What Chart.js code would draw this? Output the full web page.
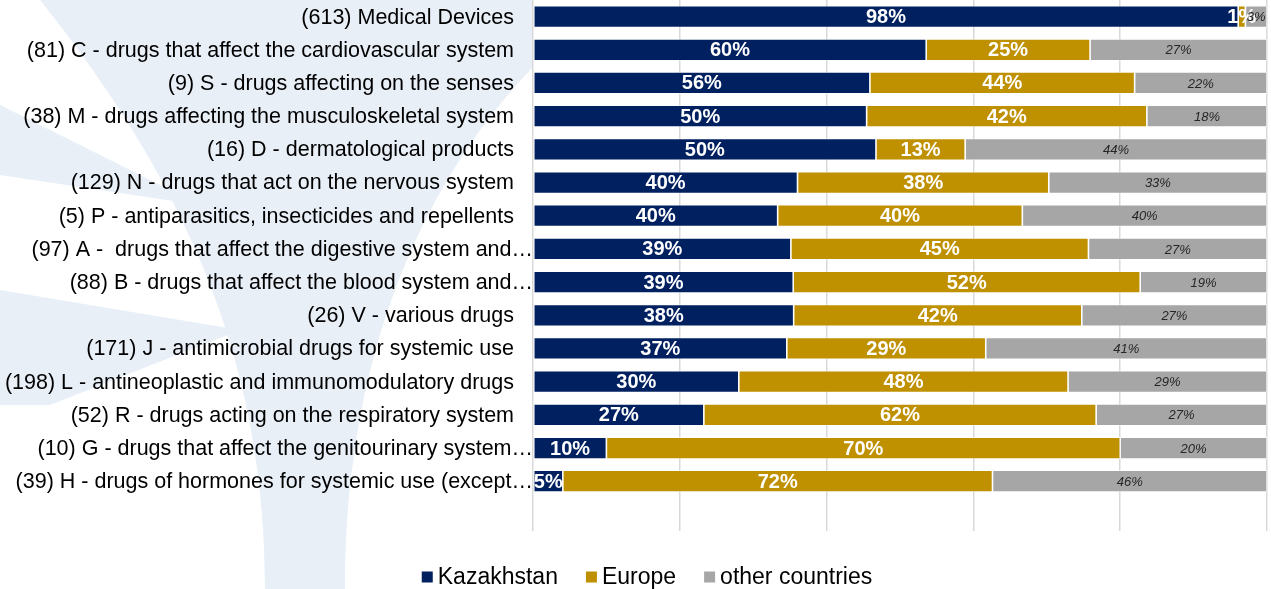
<!DOCTYPE html>
<html>
<head>
<meta charset="utf-8">
<script src="https://cdn.jsdelivr.net/npm/chart.js@4.4.0/dist/chart.umd.min.js"></script>
<style>
  html, body { margin: 0; padding: 0; background: #fff; }
  #wrap { width: 1271px; height: 589px; position: relative; }
</style>
</head>
<body>
<div id="wrap"><canvas id="origin_chart"></canvas></div>
<script>
// categories (top to bottom)
const categories = [
  '(613) Medical Devices',
  '(81) C - drugs that affect the cardiovascular system',
  '(9) S - drugs affecting on the senses',
  '(38) M - drugs affecting the musculoskeletal system',
  '(16) D - dermatological products',
  '(129) N - drugs that act on the nervous system',
  '(5) P - antiparasitics, insecticides and repellents',
  '(97) A -  drugs that affect the digestive system and\u2026',
  '(88) B - drugs that affect the blood system and\u2026',
  '(26) V - various drugs',
  '(171) J - antimicrobial drugs for systemic use',
  '(198) L - antineoplastic and immunomodulatory drugs',
  '(52) R - drugs acting on the respiratory system',
  '(10) G - drugs that affect the genitourinary system\u2026',
  '(39) H - drugs of hormones for systemic use (except\u2026'
];

// shares in % as printed on the bars
const kazakhstan = [98, 60, 56, 50, 50, 40, 40, 39, 39, 38, 37, 30, 27, 10, 5];
const europe     = [1, 25, 44, 42, 13, 38, 40, 45, 52, 42, 29, 48, 62, 70, 72];
const others     = [3, 27, 22, 18, 44, 33, 40, 27, 19, 27, 41, 29, 27, 20, 46];

const seriesNames = ['Kazakhstan', 'Europe', 'other countries'];
const seriesColors = ['#002060', '#BF9000', '#A6A6A6'];
const xTicks = [0, 20, 40, 60, 80, 100];

const FONT = '"Liberation Sans", Arial, sans-serif';

// bars are drawn 100% stacked: each row scaled to its own total
function share(arr, i) {
  var total = kazakhstan[i] + europe[i] + others[i];
  return arr[i] / total * 100;
}
const rawSeries = [kazakhstan, europe, others];

const datasets = rawSeries.map(function (arr, s) {
  return {
    label: seriesNames[s],
    data: arr.map(function (v, i) { return share(arr, i); }),
    raw: arr,
    backgroundColor: seriesColors[s],
    borderColor: 'rgba(255,255,255,0.7)',
    borderWidth: 0.8,
    borderSkipped: false,
    barPercentage: 0.66,
    categoryPercentage: 1.0
  };
});

// faint logo swoosh behind the category labels
const watermark = {
  id: 'watermark',
  beforeDraw: function (chart) {
    var ctx = chart.ctx;
    ctx.save();
    ctx.beginPath();
    ctx.rect(0, 0, chart.chartArea.left, chart.height);
    ctx.clip();
    ctx.fillStyle = '#E8EFF7';
    ctx.beginPath();
    ctx.moveTo(40, 0);
    ctx.lineTo(540, 0);
    ctx.lineTo(540, 60);
    ctx.bezierCurveTo(440, 160, 345, 330, 345, 589);
    ctx.lineTo(265, 589);
    ctx.bezierCurveTo(265, 380, 200, 200, 40, 0);
    ctx.fill();
    ctx.beginPath();
    ctx.moveTo(0, 105);
    ctx.lineTo(200, 205);
    ctx.lineTo(0, 175);
    ctx.fill();
    ctx.beginPath();
    ctx.moveTo(0, 290);
    ctx.lineTo(240, 330);
    ctx.lineTo(50, 405);
    ctx.lineTo(0, 405);
    ctx.fill();
    ctx.restore();
  }
};

// category names, right aligned next to the plot
const catLabels = {
  id: 'catLabels',
  afterDraw: function (chart) {
    var ctx = chart.ctx;
    var yScale = chart.scales.y;
    ctx.save();
    ctx.font = '21.5px ' + FONT;
    ctx.fillStyle = '#000000';
    ctx.textAlign = 'right';
    ctx.textBaseline = 'middle';
    categories.forEach(function (c, i) {
      var x = c.endsWith('\u2026') ? chart.chartArea.left : chart.chartArea.left - 19;
      ctx.fillText(c, x, yScale.getPixelForTick(i) + 1);
    });
    ctx.restore();
  }
};

// percentage labels inside the segments
const barLabels = {
  id: 'barLabels',
  afterDatasetsDraw: function (chart) {
    var ctx = chart.ctx;
    ctx.save();
    ctx.textAlign = 'center';
    ctx.textBaseline = 'middle';
    chart.data.datasets.forEach(function (ds, s) {
      var meta = chart.getDatasetMeta(s);
      if (s < 2) {
        ctx.font = 'bold 20px ' + FONT;
        ctx.fillStyle = '#FFFFFF';
      } else {
        ctx.font = 'italic 13px ' + FONT;
        ctx.fillStyle = '#262626';
      }
      meta.data.forEach(function (bar, i) {
        if (ds.raw[i] == null) return;
        var cx = (bar.x + bar.base) / 2;
        ctx.fillText(ds.raw[i] + '%', cx, bar.y + 1);
      });
    });
    ctx.restore();
  }
};

// legend under the plot
const bottomLegend = {
  id: 'bottomLegend',
  afterDraw: function (chart) {
    var ctx = chart.ctx;
    ctx.save();
    ctx.font = '23px ' + FONT;
    ctx.textBaseline = 'middle';
    var box = 11, gap = 5, itemGap = 28;
    var widths = seriesNames.map(function (n) { return box + gap + ctx.measureText(n).width; });
    var total = widths.reduce(function (a, b) { return a + b; }, 0) + itemGap * (widths.length - 1);
    var x = 647 - total / 2;
    var y = 577;
    seriesNames.forEach(function (n, s) {
      ctx.fillStyle = seriesColors[s];
      ctx.fillRect(x, y - box / 2, box, box);
      ctx.fillStyle = '#000000';
      ctx.fillText(n, x + box + gap, y + 1);
      x += widths[s] + itemGap;
    });
    ctx.restore();
  }
};

const config_origin_chart = {
  type: 'bar',
  data: {
    labels: categories.concat(['']),
    datasets: datasets
  },
  options: {
    indexAxis: 'y',
    responsive: true,
    maintainAspectRatio: false,
    animation: false,
    layout: { padding: { top: 0, right: 4, bottom: 58, left: 0 } },
    plugins: {
      legend: { display: false },
      tooltip: { enabled: false }
    },
    scales: {
      x: {
        stacked: true,
        min: 0,
        max: 100,
        afterBuildTicks: function (scale) {
          scale.ticks = xTicks.map(function (v) { return { value: v }; });
        },
        ticks: { display: false },
        grid: { color: '#D9D9D9', lineWidth: 1.5, drawTicks: false },
        border: { display: false }
      },
      y: {
        stacked: true,
        afterFit: function (scale) { scale.width = 533; },
        ticks: { display: false, padding: 0 },
        grid: { display: false, drawTicks: false },
        border: { display: false }
      }
    }
  },
  plugins: [watermark, barLabels, catLabels, bottomLegend]
};

const origin_chart = new Chart(
  document.getElementById('origin_chart'),
  config_origin_chart
);
</script>
</body>
</html>
